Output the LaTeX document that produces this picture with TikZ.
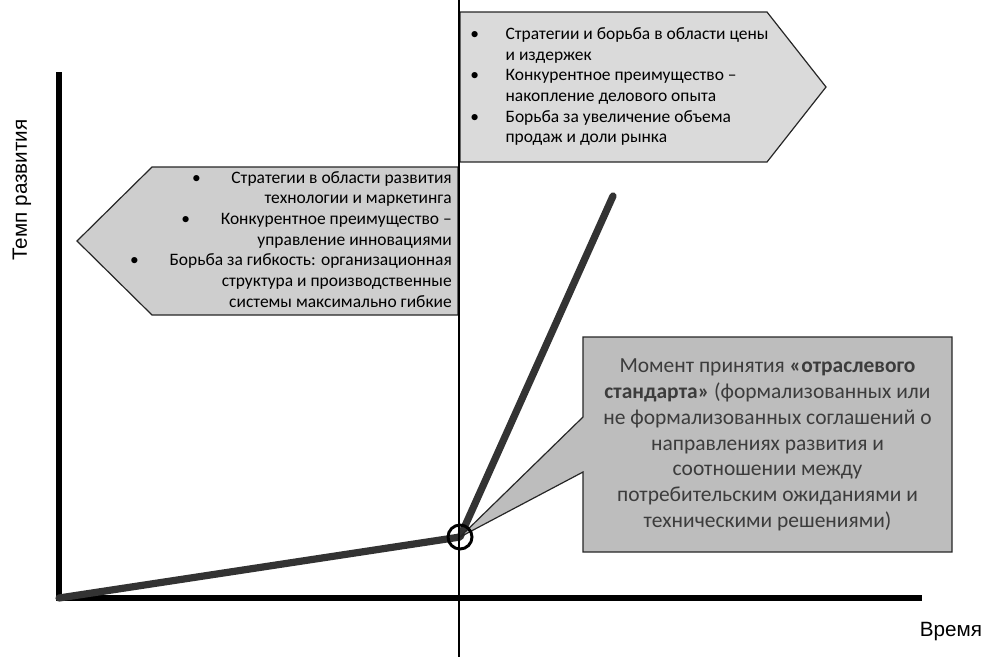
\documentclass[tikz,border=0pt]{standalone}
\usepackage{fontspec}
\setmainfont{Carlito}
\newfontfamily\axisfont{Liberation Sans}
\usepackage{xcolor}
\usetikzlibrary{positioning,calc}

\definecolor{boxlight}{HTML}{DADADA}
\definecolor{boxleft}{HTML}{CECECE}
\definecolor{notegray}{HTML}{BDBDBD}
\definecolor{notetext}{HTML}{3C3C3C}

\begin{document}
\begin{tikzpicture}[x=0.75pt, y=-0.75pt,
  box/.style={draw=black!85, line width=0.9pt},
  itemtext/.style={font=\fontsize{13.1}{15.5}\selectfont, inner sep=0pt},
  axislabel/.style={font=\axisfont\fontsize{15.5}{18}\selectfont, inner sep=0pt},
  axis/.style={line width=4.6pt},
  trend/.style={draw=black!80, line width=5.4pt, line cap=round, line join=round}]
  \useasboundingbox (0,0) rectangle (987,657);
  % key points of the development curve
  \coordinate (origin) at (59,598);
  \coordinate (knee) at (460,537);
  \coordinate (peak) at (613,196);
  % arrow boxes: price stage (right), technology stage (left)
  \draw[box, fill=boxlight] (460,12) -- (767,12) -- (826,87) -- (767,162) -- (460,162) -- cycle;
  \draw[box, fill=boxleft] (458,167) -- (152,167) -- (77,241) -- (152,315) -- (458,315) -- cycle;
  \node[itemtext, anchor=west] (price) at (470,87) {%
    \begin{tabular}{@{}l@{\hspace{20pt}}l@{}}
      \textbullet & Стратегии и борьба в области цены\\
                  & и издержек\\
      \textbullet & Конкурентное преимущество –\\
                  & накопление делового опыта\\
      \textbullet & Борьба за увеличение объема\\
                  & продаж и доли рынка
    \end{tabular}};
  \node[itemtext, anchor=east] (tech) at (452,241) {%
    \begin{tabular}{@{}r@{}}
      \textbullet\hspace{23pt}Стратегии в области развития\\
      технологии и маркетинга\\
      \textbullet\hspace{23pt}Конкурентное преимущество –\\
      управление инновациями\\
      \textbullet\hspace{23pt}Борьба за гибкость: организационная\\
      структура и производственные\\
      системы максимально гибкие
    \end{tabular}};
  % axes and the curve
  \draw[axis] (59,72) -- (origin) -- (922,598);
  \draw[trend] (origin) -- (knee) -- (peak);
  % callout pointing at the knee
  \draw[box, fill=notegray] (583,337) -- (952,337) -- (952,552) -- (583,552)
     -- (583,472) -- (knee) -- (583,417) -- cycle;
  \node[font=\fontsize{16.1}{19.3}\selectfont, text=notetext, align=center, inner sep=0pt]
    (note) at (767.5,445) {Момент принятия \textbf{«отраслевого}\\
      \textbf{стандарта»} (формализованных или\\
      не формализованных соглашений о\\
      направлениях развития и\\
      соотношении между\\
      потребительским ожиданиями и\\
      техническими решениями)};
  \draw[line width=2.2pt] (knee) circle[radius=9pt];
  % moment of the industry standard
  \draw[line width=0.9pt] (459,0) -- (459,657);
  % axis labels
  \node[axislabel, rotate=90] (ylab) at (22,190) {Темп развития};
  \node[axislabel] (xlab) at (951,632) {Время};
\end{tikzpicture}
\end{document}
